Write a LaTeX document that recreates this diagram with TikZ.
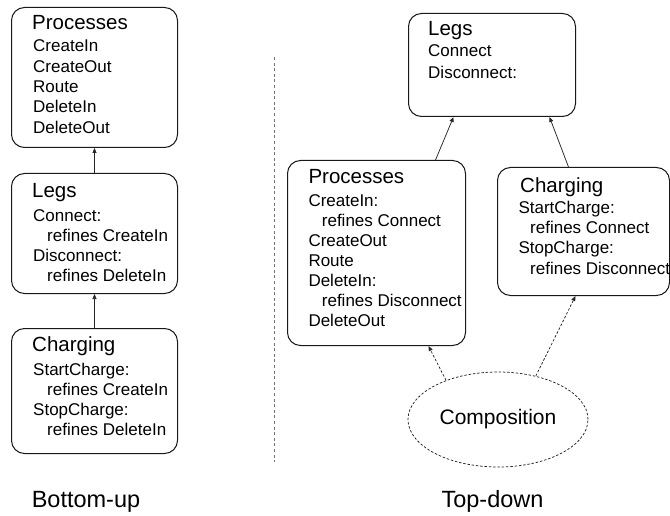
\documentclass[tikz,border=0pt]{standalone}
\usepackage{fontspec}
\setmainfont{Liberation Sans}
\usetikzlibrary{shapes.geometric,arrows.meta}

\tikzset{
  box/.style={draw=black!90, line width=1pt, rounded corners=13pt,
    inner sep=0pt, anchor=north west},
  ttl/.style={anchor=base west, inner sep=0pt, font=\fontsize{20.5}{24}\selectfont},
  txt/.style={anchor=base west, inner sep=0pt, font=\fontsize{17}{20}\selectfont},
  caption/.style={anchor=base, inner sep=0pt, font=\fontsize{23.5}{28}\selectfont},
  link/.style={draw=black!85, line width=0.75pt,
    -{Triangle[length=5pt,width=4pt]}},
  dlink/.style={link, dash pattern=on 2.5pt off 1.8pt},
  divider/.style={draw=black!55, line width=1pt, dash pattern=on 3pt off 2.6pt},
}

\begin{document}
\begin{tikzpicture}[x=1pt,y=-1pt]
\useasboundingbox (0,0) rectangle (670,516);

% ---------- bottom-up column ----------
\node[box, minimum width=166pt, minimum height=140pt] (lproc) at (11,7) {};
\node[ttl] (lproc-t) at (32,29.3) {Processes};
\foreach \y/\t [count=\i] in {51.7/CreateIn, 72.1/CreateOut, 92.5/Route,
    112.9/DeleteIn, 133.3/DeleteOut}
  \node[txt] (lproc-\i) at (33,\y) {\t};

\node[box, minimum width=166pt, minimum height=120pt] (lleg) at (11,173) {};
\node[ttl] (lleg-t) at (32,197.3) {Legs};
\foreach \x/\y/\t [count=\i] in {33/221.5/Connect:, 47/241.5/refines CreateIn,
    33/261.8/Disconnect:, 47/281.8/refines DeleteIn}
  \node[txt] (lleg-\i) at (\x,\y) {\t};

\node[box, minimum width=166pt, minimum height=125pt] (lchg) at (11,328) {};
\node[ttl] (lchg-t) at (32,351.5) {Charging};
\foreach \x/\y/\t [count=\i] in {33/375/StartCharge:, 47/395/refines CreateIn,
    33/415/StopCharge:, 47/435/refines DeleteIn}
  \node[txt] (lchg-\i) at (\x,\y) {\t};

\draw[link] (lleg.north) -- (lproc.south);
\draw[link] (lchg.north) -- (lleg.south);

% ---------- divider ----------
\coordinate (divtop) at (274,57);
\coordinate (divbot) at (274,462);
\draw[divider] (divtop) -- (divbot);

% ---------- top-down column ----------
\node[box, minimum width=167pt, minimum height=103pt] (rleg) at (408,13) {};
\node[ttl] (rleg-t) at (428,36) {Legs};
\node[txt] (rleg-1) at (428,57) {Connect};
\node[txt] (rleg-2) at (428,78.3) {Disconnect:};

\node[box, minimum width=178pt, minimum height=185pt] (rproc) at (287,160) {};
\node[ttl] (rproc-t) at (308.3,183.3) {Processes};
\foreach \x/\y/\t [count=\i] in {308.3/206.7/CreateIn:, 321.7/226.7/refines Connect,
    308.3/246.7/CreateOut, 308.3/266.7/Route, 308.3/286.7/DeleteIn:,
    321.7/306.7/refines Disconnect, 308.3/326.7/DeleteOut}
  \node[txt] (rproc-\i) at (\x,\y) {\t};

\node[box, minimum width=172pt, minimum height=128pt] (rchg) at (497,167) {};
\node[ttl] (rchg-t) at (520,192.5) {Charging};
\foreach \x/\y/\t [count=\i] in {518.3/213.3/StartCharge:, 530/233.5/refines Connect,
    518.3/254/StopCharge:, 530/274.5/refines Disconnect}
  \node[txt] (rchg-\i) at (\x,\y) {\t};

\node[ellipse, draw=black!85, line width=0.75pt, dash pattern=on 2.5pt off 1.8pt,
  minimum width=180pt, minimum height=95pt, inner sep=0pt,
  font=\fontsize{21}{25}\selectfont] (comp) at (498,419.5) {Composition};

\draw[link] ([xshift=59pt]rproc.north) -- ([xshift=-38.5pt]rleg.south);
\draw[link] ([xshift=-15pt]rchg.north) -- ([xshift=57.5pt]rleg.south);
\draw[dlink] (comp.143) -- ([xshift=52pt]rproc.south);
\draw[dlink] (comp.49) -- ([xshift=-8pt]rchg.south);

% ---------- captions ----------
\node[caption] (bu) at (86,507) {Bottom-up};
\node[caption] (td) at (492.5,507) {Top-down};
\end{tikzpicture}
\end{document}
